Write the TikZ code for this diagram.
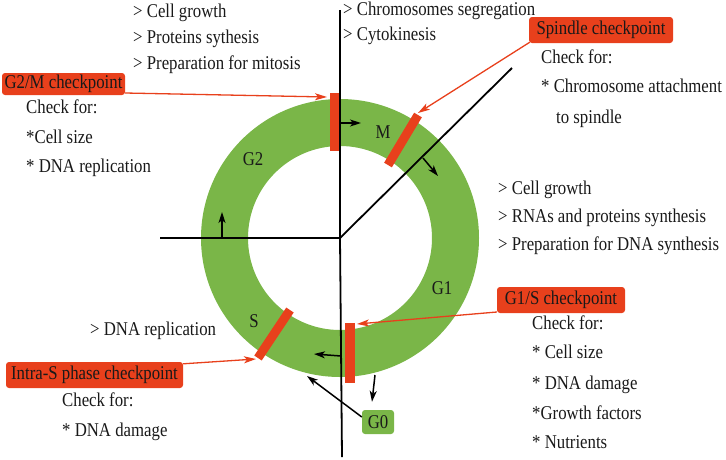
\documentclass[tikz,border=0pt]{standalone}
\usepackage{fontspec}
\setmainfont{Liberation Serif}[FakeStretch=0.86]
\usetikzlibrary{arrows.meta}
\definecolor{ringgreen}{RGB}{122,182,72}
\definecolor{ckred}{RGB}{232,64,28}
\definecolor{txtdark}{RGB}{25,25,25}
\begin{document}
\begin{tikzpicture}[x=1pt,y=-1pt,
  every node/.style={text=txtdark},
  txt/.style={anchor=base west,inner sep=0pt,font=\fontsize{19.5}{21}\selectfont},
  lbl/.style={anchor=base,inner sep=0pt,font=\fontsize{19.5}{21}\selectfont},
  ckbox/.style={fill=ckred,rounded corners=3pt,inner sep=0pt,text height=13pt,text depth=4pt,font=\fontsize{19.5}{21}\selectfont},
  gbox/.style={fill=ringgreen,rounded corners=3pt,inner sep=0pt,text height=13pt,text depth=0pt,minimum width=32pt,minimum height=24pt,font=\fontsize{19.5}{21}\selectfont},
  bar/.style={draw=ckred,line width=9pt},
  blk/.style={draw=black,line width=1.8pt},
  barrow/.style={draw=black,line width=1.5pt,-{Stealth[length=11pt,width=7pt,inset=3pt]}},
  rarrow/.style={draw=ckred,line width=1.3pt,-{Stealth[length=12pt,width=7pt,inset=3pt]}}
]
\useasboundingbox (0,0) rectangle (726,459);
% ring
\coordinate (c) at (340,238);
\fill[ringgreen,even odd rule] (c) circle[radius=139pt] (c) circle[radius=92pt];
% phase lines
\coordinate (vtop) at (340,10);
\coordinate (vbot) at (342,457);
\coordinate (hleft) at (160,238);
\coordinate (dtop) at (512,68);
\draw[blk] (vtop) -- (c) -- (vbot);
\draw[blk] (hleft) -- (c) -- (dtop);
% checkpoint bars
\coordinate (b1a) at (334,93);  \coordinate (b1b) at (334,151);
\coordinate (b2a) at (418,115); \coordinate (b2b) at (388,165);
\coordinate (b3a) at (350,323); \coordinate (b3b) at (350,383);
\coordinate (b4a) at (290,310); \coordinate (b4b) at (258,358);
\draw[bar] (b1a) -- (b1b);
\draw[bar] (b2a) -- (b2b);
\draw[bar,line width=10pt] (b3a) -- (b3b);
\draw[bar] (b4a) -- (b4b);
% ring labels
\node[lbl] (lg2) at (253,165) {G2};
\node[lbl] (lm) at (383,138) {M};
\node[lbl] (lg1) at (442,294) {G1};
\node[lbl] (ls) at (254,327) {S};
% checkpoint boxes
\node[ckbox,minimum width=123pt,minimum height=22pt] (g2m) at (63.5,84) {G2/M checkpoint};
\node[ckbox,minimum width=144pt,minimum height=26pt] (spc) at (601,30) {Spindle checkpoint};
\node[ckbox,minimum width=128pt,minimum height=26pt] (g1s) at (561,300) {G1/S checkpoint};
\node[ckbox,minimum width=177pt,minimum height=26pt] (ints) at (94.5,375) {Intra-S phase checkpoint};
\node[gbox] (g0) at (378,422) {G0};
% red arrows
\coordinate (t1) at (327,97);
\coordinate (t2) at (418,113);
\coordinate (t3) at (357,324);
\coordinate (t4) at (256,359);
\draw[rarrow] ([yshift=-9pt]g2m.east) -- (t1);
\draw[rarrow] ([xshift=1pt,yshift=1pt]spc.south west) -- (t2);
\draw[rarrow] ([yshift=-12pt]g1s.west) -- (t3);
\draw[rarrow] ([yshift=-2pt]ints.north east) -- (t4);
% black arrows
\coordinate (a1s) at (340,123); \coordinate (a1e) at (361,123);
\coordinate (a2s) at (423,158); \coordinate (a2e) at (438,176);
\coordinate (a3s) at (222,238); \coordinate (a3e) at (222,212);
\coordinate (a4s) at (341,356); \coordinate (a4e) at (314,354);
\coordinate (a5s) at (375,375);
\coordinate (a6e) at (307,376);
\draw[barrow] (a1s) -- (a1e);
\draw[barrow] (a2s) -- (a2e);
\draw[barrow] (a3s) -- (a3e);
\draw[barrow] (a4s) -- (a4e);
\draw[barrow] (a5s) -- ([xshift=-6pt,yshift=8pt]g0.north);
\draw[barrow] ([yshift=5pt]g0.west) -- (a6e);
% text blocks
\node[txt] (tl1) at (133,17) {> Cell growth};
\node[txt] (tl2) at (133,43) {> Proteins sythesis};
\node[txt] (tl3) at (133,69) {> Preparation for mitosis};
\node[txt] (gc1) at (26,113) {Check for:};
\node[txt] (gc2) at (26,143) {*Cell size};
\node[txt] (gc3) at (26,172) {* DNA replication};
\node[txt] (tr1) at (343,15) {> Chromosomes segregation};
\node[txt] (tr2) at (343,40) {> Cytokinesis};
\node[txt] (sc1) at (541,63) {Check for:};
\node[txt] (sc2) at (541,92) {* Chromosome attachment};
\node[txt] (sc3) at (556,123) {to spindle};
\node[txt] (r1) at (498,194) {> Cell growth};
\node[txt] (r2) at (498,222) {> RNAs and proteins synthesis};
\node[txt] (r3) at (498,250) {> Preparation for DNA synthesis};
\node[txt] (gs1) at (532,329) {Check for:};
\node[txt] (gs2) at (532,358) {* Cell size};
\node[txt] (gs3) at (532,389) {* DNA damage};
\node[txt] (gs4) at (532,419) {*Growth factors};
\node[txt] (gs5) at (532,448) {* Nutrients};
\node[txt] (dr) at (90,335) {> DNA replication};
\node[txt] (is1) at (62,406) {Check for:};
\node[txt] (is2) at (62,436) {* DNA damage};
\end{tikzpicture}
\end{document}
